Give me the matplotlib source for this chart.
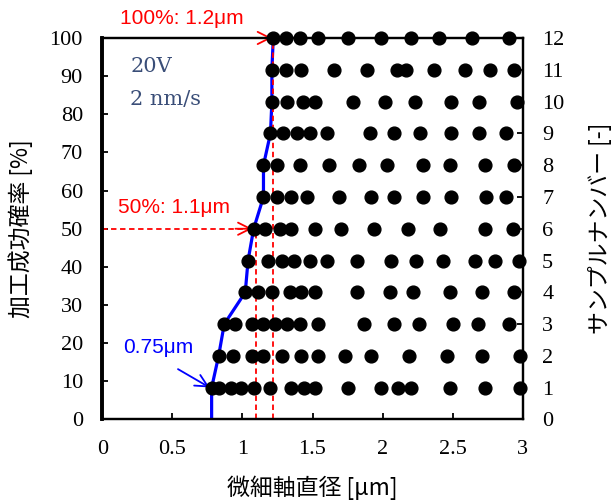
import numpy as np
import matplotlib
matplotlib.use("Agg")
import matplotlib.pyplot as plt

plt.rcParams["font.family"] = "serif"
plt.rcParams["font.serif"] = ["Liberation Serif", "Times New Roman", "DejaVu Serif"]

# measured diameters [um] per sample (sample number 1..12)
s1 = [0.78, 0.83, 0.92, 0.99, 1.08, 1.20, 1.35, 1.44, 1.52, 1.75, 1.99, 2.11, 2.20, 2.48, 2.73, 2.98]
s2 = [0.83, 0.93, 1.07, 1.15, 1.28, 1.42, 1.54, 1.73, 1.92, 2.19, 2.46, 2.71, 2.98]
s3 = [0.87, 0.95, 1.07, 1.15, 1.23, 1.32, 1.41, 1.54, 1.87, 2.08, 2.26, 2.50, 2.68, 2.90]
s4 = [1.02, 1.11, 1.21, 1.34, 1.42, 1.52, 1.82, 2.05, 2.22, 2.48, 2.71, 2.94]
s5 = [1.04, 1.18, 1.28, 1.37, 1.48, 1.60, 1.82, 2.06, 2.24, 2.43, 2.66, 2.80, 2.97]
s6 = [1.08, 1.16, 1.27, 1.35, 1.52, 1.70, 1.94, 2.18, 2.41, 2.73, 2.93]
s7 = [1.15, 1.25, 1.35, 1.46, 1.69, 1.92, 2.08, 2.29, 2.49, 2.74, 2.88]
s8 = [1.15, 1.25, 1.41, 1.62, 1.83, 2.03, 2.29, 2.48, 2.73, 2.94]
s9 = [1.20, 1.29, 1.39, 1.48, 1.60, 1.91, 2.08, 2.27, 2.49, 2.69, 2.88]
s10 = [1.21, 1.32, 1.43, 1.52, 1.79, 2.02, 2.23, 2.49, 2.69, 2.96]
s11 = [1.21, 1.31, 1.42, 1.65, 1.89, 2.10, 2.17, 2.37, 2.59, 2.77, 2.94]
s12 = [1.22, 1.31, 1.41, 1.54, 1.75, 1.99, 2.20, 2.40, 2.64, 2.90]
samples = [s1, s2, s3, s4, s5, s6, s7, s8, s9, s10, s11, s12]

# success rate curve: smallest diameter of each sample, sorted
mins = sorted(min(s) for s in samples)
n = len(samples)
curve_x = [mins[0]] + mins
curve_y = [0] + [100 * (i + 1) / n for i in range(n)]

x50, x100 = 1.1, 1.22   # annotated diameters
tip50, tip100 = 1.07, 1.21

jp = ["Noto Sans CJK JP", "DejaVu Sans"]
sans = ["Liberation Sans", "DejaVu Sans"]
red = "#FF0000"

fig = plt.figure(figsize=(6.12, 5.01), dpi=100)
ax = fig.add_axes([0.1672, 0.1627, 0.6869, 0.7615])
ax2 = ax.twinx()

# blue success curve
ax.plot(curve_x, curve_y, color="#0000FF", lw=2.3, zorder=2)

# red dashed guides
ax.plot([x50, x50], [0, 50], color=red, lw=1.3, dashes=(3, 2))
ax.plot([x100, x100], [0, 100], color=red, lw=1.3, dashes=(3, 2))
ax.plot([0, tip50], [50, 50], color=red, lw=1.3, dashes=(3, 2))
ax.plot([0, tip100], [100, 100], color=red, lw=1.3, dashes=(3, 2), clip_on=False)
for tx, ty in [(tip50, 50), (tip100, 100)]:
    ax.annotate("", xy=(tx, ty), xytext=(tx - 0.12, ty),
                arrowprops=dict(arrowstyle="->", color=red, lw=1.3, mutation_scale=22,
                                shrinkA=0, shrinkB=0), annotation_clip=False)

ax.text(0.569, 105, "100%: 1.2μm", color=red, fontsize=15, family=sans,
        va="center", ha="center", clip_on=False)
ax.text(0.51, 55.5, "50%: 1.1μm", color=red, fontsize=15, family=sans,
        va="center", ha="center")
ax.text(0.40, 19, "0.75μm", color="#0000FF", fontsize=15, family=sans,
        va="center", ha="center")
ax.annotate("", xy=(0.765, 8.4), xytext=(0.54, 13.2),
            arrowprops=dict(arrowstyle="->", color="#0000FF", lw=1.3, mutation_scale=22,
                            shrinkA=0, shrinkB=0))

ax.text(0.2, 92.4, "20V", color="#3A4E78", fontsize=15, family="DejaVu Serif", va="center")
ax.text(0.2, 83.8, "2 nm/s", color="#3A4E78", fontsize=15, family="DejaVu Serif", va="center")

# measurement points on the sample axis
for k, s in enumerate(samples, start=1):
    ax2.plot(s, [k] * len(s), "o", color="black", markersize=9.2, clip_on=False, zorder=3)

ax.set_xlim(0, 3)
ax.set_ylim(0, 100)
ax2.set_ylim(0, 12)
ax.set_xticks(np.arange(0, 3.01, 0.5))
ax.set_xticklabels(["0", "0.5", "1", "1.5", "2", "2.5", "3"])
ax.set_yticks(range(0, 101, 10))
ax2.set_yticks(range(0, 13))

for a in (ax, ax2):
    for sp in a.spines.values():
        sp.set_linewidth(1.6)
    a.spines["left"].set_linewidth(2.6)
ax.tick_params(axis="both", direction="in", length=4, width=1.3, labelsize=16, pad=14)
ax.tick_params(axis="x", pad=15)
ax2.tick_params(axis="y", direction="in", length=4, width=1.3, labelsize=16, pad=14)

ax.set_xlabel("微細軸直径 [μm]", family=jp, fontsize=16.5)
ax.set_ylabel("加工成功確率 [%]", family=jp, fontsize=16.5)
ax2.set_ylabel("サンプルナンバー [-]", family=jp, fontsize=16.5, rotation=90)
ax.xaxis.set_label_coords(0.5, -0.148)
ax.yaxis.set_label_coords(-0.165, 0.5)
ax2.yaxis.set_label_coords(1.155, 0.5)

fig.savefig("out.png", dpi=100)
